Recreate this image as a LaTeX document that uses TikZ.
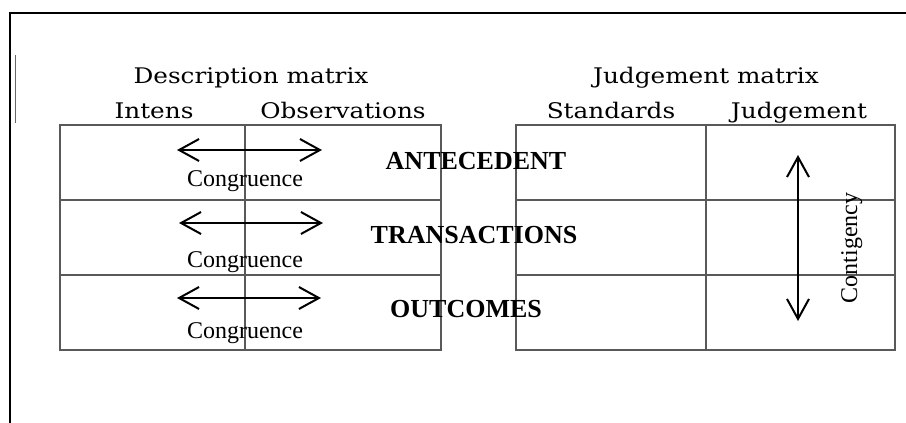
\documentclass[tikz,border=0pt]{standalone}
\usepackage{fontspec}
\setmainfont{Liberation Serif}
\newfontfamily\headfont[FakeStretch=1.15]{DejaVu Serif}
\usetikzlibrary{arrows.meta}
\usetikzlibrary{positioning}
\tikzset{
    frameline/.style={draw=black, line width=2.6pt},
    gridline/.style={draw=black!65, line width=1.2pt},
    twoway/.style={draw=black, line width=2pt,
        {Straight Barb[length=20pt,width=22pt]}-{Straight Barb[length=20pt,width=22pt]}},
    headtext/.style={anchor=base, inner sep=0pt, font=\headfont\fontsize{21.5}{21.5}\selectfont},
    rowtext/.style={anchor=base, inner sep=0pt, font=\bfseries\fontsize{26}{26}\selectfont},
    notetext/.style={anchor=base, inner sep=0pt, font=\fontsize{24}{24}\selectfont},
}

\begin{document}
\begin{tikzpicture}[x=1pt, y=-1pt]
	\useasboundingbox (0,0) rectangle (906,423);
	% outer frame
	\draw[frameline] (10,423) -- (10,13) -- (906,13);
	\draw[draw=black!60, line width=1pt] (15,55) -- (15,123);
 \begin{scope}
	% description matrix
	\draw[gridline] (60,125) rectangle (441,350);
	\draw[gridline] (60,200) -- (441,200);
	\draw[gridline] (60,275) -- (441,275);
	\draw[gridline] (245,125) -- (245,350);
	\node[headtext] (desc) at (251,83) {Description matrix};
	\node[headtext] (intens) at (154,118) {Intens};
	\node[headtext] (obs) at (343,118) {Observations};
	\coordinate (a1) at (177,150);
	\coordinate (b1) at (322,150);
	\coordinate (a2) at (179,223);
	\coordinate (b2) at (323,223);
	\coordinate (a3) at (177,298);
	\coordinate (b3) at (321,298);
	\draw[twoway] (a1) -- (b1);
	\draw[twoway] (a2) -- (b2);
	\draw[twoway] (a3) -- (b3);
	\node[notetext] (cong1) at (245,186) {Congruence};
	\node[notetext] (cong2) at (245,267) {Congruence};
	\node[notetext] (cong3) at (245,338) {Congruence};
 \end{scope}
 \begin{scope}
	% judgement matrix
	\draw[gridline] (516,125) rectangle (895,350);
	\draw[gridline] (516,200) -- (895,200);
	\draw[gridline] (516,275) -- (895,275);
	\draw[gridline] (706,125) -- (706,350);
	\node[headtext] (judg) at (706,83) {Judgement matrix};
	\node[headtext] (stand) at (611,118) {Standards};
	\node[headtext] (judgcol) at (799,118) {Judgement};
	\coordinate (top) at (798,155);
	\coordinate (bot) at (798,321);
	\draw[twoway] (top) -- (bot);
	\node[notetext, rotate=90] (conti) at (857,248) {Contigency};
 \end{scope}
	% row labels
	\node[rowtext] (ante) at (476,169) {ANTECEDENT};
	\node[rowtext] (trans) at (474,243) {TRANSACTIONS};
	\node[rowtext] (outc) at (466,317) {OUTCOMES};
\end{tikzpicture}
\end{document}
